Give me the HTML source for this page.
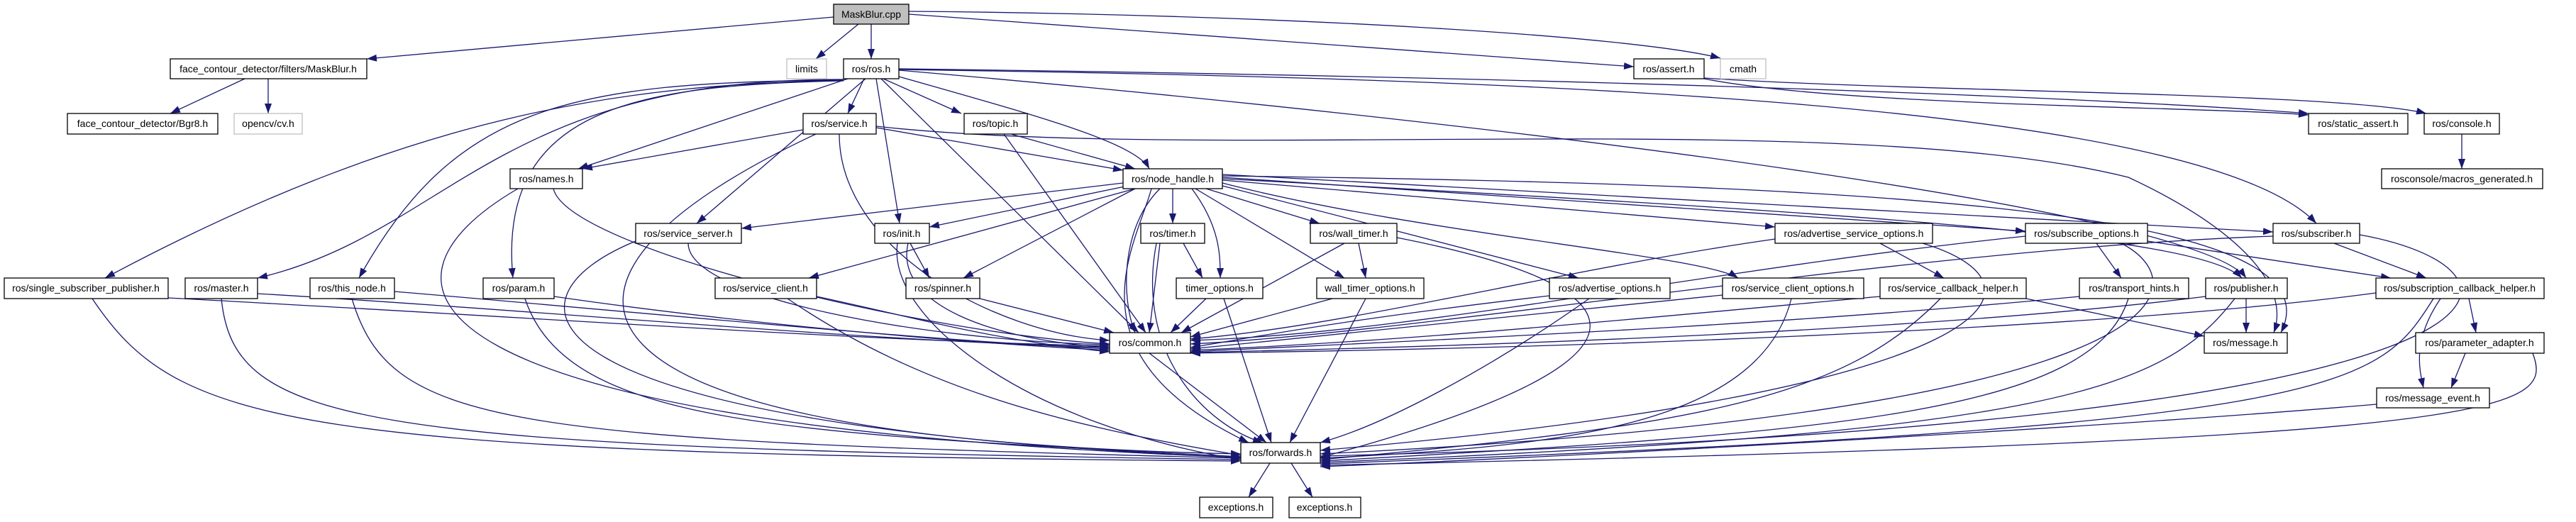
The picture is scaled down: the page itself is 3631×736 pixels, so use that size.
<!DOCTYPE html>
<html><head><meta charset="utf-8"><style>
html,body{margin:0;padding:0;background:#fff;}
svg{display:block;}
text{font-family:"Liberation Sans",sans-serif;font-size:14px;text-anchor:middle;fill:#000;}
.n{fill:#fff;stroke:#000;stroke-width:1.3;}
.g{fill:#fff;stroke:#bfbfbf;stroke-width:1.3;}
.e path{fill:none;stroke:#191970;stroke-width:1.3;}
</style></head><body>
<svg width="3631" height="736" viewBox="0 0 3631 736" xmlns="http://www.w3.org/2000/svg">
<defs><marker id="a" markerUnits="userSpaceOnUse" markerWidth="14" markerHeight="10" refX="14" refY="5" orient="auto"><path d="M0,0 L14,5 L0,10 z" fill="#191970"/></marker></defs>
<g class="e" marker-end="url(#a)">
<path d="M1175 24 L517 83" marker-end="url(#a)"/>
<path d="M1210 34 L1150 83" marker-end="url(#a)"/>
<path d="M1228 34 L1228 83" marker-end="url(#a)"/>
<path d="M1281 20 C1700 50 2100 80 2303 94" marker-end="url(#a)"/>
<path d="M1281 16 C1800 20 2300 50 2425 82" marker-end="url(#a)"/>
<path d="M345 111 L240 160" marker-end="url(#a)"/>
<path d="M378 111 L378 160" marker-end="url(#a)"/>
<path d="M1195 111 L815 238" marker-end="url(#a)"/>
<path d="M1218 111 L1195 160" marker-end="url(#a)"/>
<path d="M1245 111 L1355 160" marker-end="url(#a)"/>
<path d="M1267 108 C1450 160 1600 200 1620 238" marker-end="url(#a)"/>
<path d="M1235 111 L1268 315" marker-end="url(#a)"/>
<path d="M1220 111 L982 315" marker-end="url(#a)"/>
<path d="M1242 111 L1605 469" marker-end="url(#a)"/>
<path d="M1189 113 C900 120 600 150 148 392" marker-end="url(#a)"/>
<path d="M1189 112 C700 110 630 330 363 392" marker-end="url(#a)"/>
<path d="M1189 113 C800 115 640 150 506 392" marker-end="url(#a)"/>
<path d="M1189 114 C900 120 700 150 723 392" marker-end="url(#a)"/>
<path d="M1267 99 C2200 180 3100 300 3166 392" marker-end="url(#a)"/>
<path d="M1267 98 C2100 110 3100 140 3265 315" marker-end="url(#a)"/>
<path d="M1267 97 C2300 110 3000 140 3254 160" marker-end="url(#a)"/>
<path d="M2402 111 C2600 150 3100 150 3254 162" marker-end="url(#a)"/>
<path d="M2402 110 C2700 130 3300 130 3420 160" marker-end="url(#a)"/>
<path d="M3470 189 L3470 238" marker-end="url(#a)"/>
<path d="M1132 183 L821 238" marker-end="url(#a)"/>
<path d="M1235 180 L1583 240" marker-end="url(#a)"/>
<path d="M1183 189 C1183 350 1400 470 1564 480" marker-end="url(#a)"/>
<path d="M1150 189 C700 400 750 620 1749 640" marker-end="url(#a)"/>
<path d="M1235 178 C1700 230 2600 150 3000 250 C3150 320 3230 400 3205 469" marker-end="url(#a)"/>
<path d="M1425 189 L1600 238" marker-end="url(#a)"/>
<path d="M1415 189 L1615 469" marker-end="url(#a)"/>
<path d="M780 266 C800 350 1300 470 1564 485" marker-end="url(#a)"/>
<path d="M730 266 C500 400 550 600 1749 645" marker-end="url(#a)"/>
<path d="M1583 258 L1045 322" marker-end="url(#a)"/>
<path d="M1590 262 L1310 320" marker-end="url(#a)"/>
<path d="M1600 266 L1358 392" marker-end="url(#a)"/>
<path d="M1653 266 L1653 315" marker-end="url(#a)"/>
<path d="M1680 266 C1720 320 1720 360 1720 392" marker-end="url(#a)"/>
<path d="M1700 266 L1860 315" marker-end="url(#a)"/>
<path d="M1685 266 L1895 392" marker-end="url(#a)"/>
<path d="M1635 266 C1580 320 1580 420 1600 469" marker-end="url(#a)"/>
<path d="M1623 266 C1600 350 1500 500 1760 624" marker-end="url(#a)"/>
<path d="M1600 266 L1140 392" marker-end="url(#a)"/>
<path d="M1723 262 L2225 392" marker-end="url(#a)"/>
<path d="M1723 254 L2502 320" marker-end="url(#a)"/>
<path d="M1723 258 C2000 330 2400 360 2450 392" marker-end="url(#a)"/>
<path d="M1723 250 L2855 326" marker-end="url(#a)"/>
<path d="M1723 246 L3204 327" marker-end="url(#a)"/>
<path d="M1723 252 C2600 300 3100 330 3160 392" marker-end="url(#a)"/>
<path d="M1723 248 C2700 260 3300 300 3215 469" marker-end="url(#a)"/>
<path d="M970 343 C970 420 1300 480 1564 486" marker-end="url(#a)"/>
<path d="M896 340 C700 420 700 600 1749 645" marker-end="url(#a)"/>
<path d="M1283 343 L1310 392" marker-end="url(#a)"/>
<path d="M1280 343 C1260 430 1400 480 1564 490" marker-end="url(#a)"/>
<path d="M1265 343 C1250 450 1450 600 1749 648" marker-end="url(#a)"/>
<path d="M1668 343 L1695 392" marker-end="url(#a)"/>
<path d="M1635 343 L1620 469" marker-end="url(#a)"/>
<path d="M1630 343 C1600 500 1700 600 1780 624" marker-end="url(#a)"/>
<path d="M1915 343 L1925 392" marker-end="url(#a)"/>
<path d="M1895 343 L1665 469" marker-end="url(#a)"/>
<path d="M1969 335 C2300 400 2400 500 1861 645" marker-end="url(#a)"/>
<path d="M1700 421 L1650 469" marker-end="url(#a)"/>
<path d="M1725 421 L1792 624" marker-end="url(#a)"/>
<path d="M1878 421 L1678 475" marker-end="url(#a)"/>
<path d="M1925 421 L1818 624" marker-end="url(#a)"/>
<path d="M2650 343 L2740 392" marker-end="url(#a)"/>
<path d="M2502 337 C2200 380 1900 460 1678 478" marker-end="url(#a)"/>
<path d="M2710 343 C2900 400 2850 550 1861 635" marker-end="url(#a)"/>
<path d="M2955 343 L2990 392" marker-end="url(#a)"/>
<path d="M2855 333 C2400 380 2000 470 1678 480" marker-end="url(#a)"/>
<path d="M2990 343 C3100 400 3100 580 1861 640" marker-end="url(#a)"/>
<path d="M3027 340 L3370 392" marker-end="url(#a)"/>
<path d="M3290 343 L3420 392" marker-end="url(#a)"/>
<path d="M3204 333 C2700 350 2000 470 1678 485" marker-end="url(#a)"/>
<path d="M3326 331 C3600 380 3650 600 1861 643" marker-end="url(#a)"/>
<path d="M237 420 C800 450 1200 480 1564 488" marker-end="url(#a)"/>
<path d="M130 421 C250 600 400 640 1749 650" marker-end="url(#a)"/>
<path d="M363 414 C800 440 1200 480 1564 490" marker-end="url(#a)"/>
<path d="M312 421 C330 600 500 630 1749 648" marker-end="url(#a)"/>
<path d="M556 411 C900 440 1300 480 1564 492" marker-end="url(#a)"/>
<path d="M496 421 C550 600 700 620 1749 646" marker-end="url(#a)"/>
<path d="M781 418 C1000 450 1300 480 1564 494" marker-end="url(#a)"/>
<path d="M740 421 C800 600 1100 610 1749 644" marker-end="url(#a)"/>
<path d="M1151 418 C1300 450 1400 480 1564 496" marker-end="url(#a)"/>
<path d="M1110 421 C1300 550 1500 600 1749 642" marker-end="url(#a)"/>
<path d="M1381 421 L1570 469" marker-end="url(#a)"/>
<path d="M2184 417 C1900 450 1800 470 1678 490" marker-end="url(#a)"/>
<path d="M2240 421 C2100 520 1950 600 1861 624" marker-end="url(#a)"/>
<path d="M2428 416 C2100 450 1900 470 1678 492" marker-end="url(#a)"/>
<path d="M2525 421 C2480 600 2200 630 1861 646" marker-end="url(#a)"/>
<path d="M2650 418 C2300 450 2000 480 1678 494" marker-end="url(#a)"/>
<path d="M2735 421 C2600 560 2400 600 1861 648" marker-end="url(#a)"/>
<path d="M2856 421 L3107 474" marker-end="url(#a)"/>
<path d="M2931 418 C2500 460 2000 480 1678 496" marker-end="url(#a)"/>
<path d="M3000 421 C2950 580 2600 610 1861 650" marker-end="url(#a)"/>
<path d="M3166 421 L3166 469" marker-end="url(#a)"/>
<path d="M3109 418 C2700 470 2000 490 1678 497" marker-end="url(#a)"/>
<path d="M3150 421 C3050 550 2900 610 1861 652" marker-end="url(#a)"/>
<path d="M3480 421 L3490 469" marker-end="url(#a)"/>
<path d="M3440 421 C3400 480 3410 520 3416 547" marker-end="url(#a)"/>
<path d="M3349 413 C3000 460 2300 490 1678 498" marker-end="url(#a)"/>
<path d="M3430 421 C3350 550 3300 600 1861 654" marker-end="url(#a)"/>
<path d="M3475 498 L3455 547" marker-end="url(#a)"/>
<path d="M3570 498 C3600 580 3550 620 1861 656" marker-end="url(#a)"/>
<path d="M3350 570 C3000 600 2300 640 1861 658" marker-end="url(#a)"/>
<path d="M1620 498 L1785 624" marker-end="url(#a)"/>
<path d="M1790 653 L1760 701" marker-end="url(#a)"/>
<path d="M1820 653 L1850 701" marker-end="url(#a)"/>
</g>
<g>
<rect x="1175" y="6" width="106" height="28" fill="#bfbfbf" stroke="#000" stroke-width="1.3"/><text x="1228" y="25">MaskBlur.cpp</text>
<rect class="n" x="240" y="83" width="277" height="28"/><text x="378" y="102">face_contour_detector/filters/MaskBlur.h</text>
<rect class="g" x="1109" y="83" width="56" height="28"/><text x="1137" y="102">limits</text>
<rect class="n" x="1189" y="83" width="78" height="28"/><text x="1228" y="102">ros/ros.h</text>
<rect class="n" x="2303" y="83" width="99" height="28"/><text x="2352" y="102">ros/assert.h</text>
<rect class="g" x="2425" y="83" width="64" height="28"/><text x="2457" y="102">cmath</text>
<rect class="n" x="95" y="160" width="212" height="29"/><text x="201" y="179">face_contour_detector/Bgr8.h</text>
<rect class="g" x="330" y="160" width="96" height="29"/><text x="378" y="179">opencv/cv.h</text>
<rect class="n" x="1132" y="160" width="103" height="29"/><text x="1183" y="179">ros/service.h</text>
<rect class="n" x="1359" y="160" width="89" height="29"/><text x="1403" y="179">ros/topic.h</text>
<rect class="n" x="3254" y="160" width="140" height="29"/><text x="3324" y="179">ros/static_assert.h</text>
<rect class="n" x="3417" y="160" width="106" height="29"/><text x="3470" y="179">ros/console.h</text>
<rect class="n" x="719" y="238" width="102" height="28"/><text x="770" y="257">ros/names.h</text>
<rect class="n" x="1583" y="238" width="140" height="28"/><text x="1653" y="257">ros/node_handle.h</text>
<rect class="n" x="3357" y="238" width="227" height="28"/><text x="3470" y="257">rosconsole/macros_generated.h</text>
<rect class="n" x="896" y="315" width="149" height="28"/><text x="970" y="334">ros/service_server.h</text>
<rect class="n" x="1233" y="315" width="77" height="28"/><text x="1271" y="334">ros/init.h</text>
<rect class="n" x="1608" y="315" width="90" height="28"/><text x="1653" y="334">ros/timer.h</text>
<rect class="n" x="1847" y="315" width="122" height="28"/><text x="1908" y="334">ros/wall_timer.h</text>
<rect class="n" x="2502" y="315" width="222" height="28"/><text x="2613" y="334">ros/advertise_service_options.h</text>
<rect class="n" x="2855" y="315" width="172" height="28"/><text x="2941" y="334">ros/subscribe_options.h</text>
<rect class="n" x="3204" y="315" width="122" height="28"/><text x="3265" y="334">ros/subscriber.h</text>
<rect class="n" x="6" y="392" width="231" height="29"/><text x="121" y="411">ros/single_subscriber_publisher.h</text>
<rect class="n" x="261" y="392" width="102" height="29"/><text x="312" y="411">ros/master.h</text>
<rect class="n" x="437" y="392" width="119" height="29"/><text x="496" y="411">ros/this_node.h</text>
<rect class="n" x="681" y="392" width="100" height="29"/><text x="731" y="411">ros/param.h</text>
<rect class="n" x="1008" y="392" width="143" height="29"/><text x="1079" y="411">ros/service_client.h</text>
<rect class="n" x="1277" y="392" width="104" height="29"/><text x="1329" y="411">ros/spinner.h</text>
<rect class="n" x="1658" y="392" width="122" height="29"/><text x="1719" y="411">timer_options.h</text>
<rect class="n" x="1856" y="392" width="151" height="29"/><text x="1931" y="411">wall_timer_options.h</text>
<rect class="n" x="2184" y="392" width="170" height="29"/><text x="2269" y="411">ros/advertise_options.h</text>
<rect class="n" x="2428" y="392" width="199" height="29"/><text x="2527" y="411">ros/service_client_options.h</text>
<rect class="n" x="2650" y="392" width="206" height="29"/><text x="2753" y="411">ros/service_callback_helper.h</text>
<rect class="n" x="2931" y="392" width="154" height="29"/><text x="3008" y="411">ros/transport_hints.h</text>
<rect class="n" x="3109" y="392" width="115" height="29"/><text x="3166" y="411">ros/publisher.h</text>
<rect class="n" x="3349" y="392" width="237" height="29"/><text x="3467" y="411">ros/subscription_callback_helper.h</text>
<rect class="n" x="1564" y="469" width="114" height="29"/><text x="1621" y="488">ros/common.h</text>
<rect class="n" x="3107" y="469" width="117" height="29"/><text x="3165" y="488">ros/message.h</text>
<rect class="n" x="3405" y="469" width="181" height="29"/><text x="3495" y="488">ros/parameter_adapter.h</text>
<rect class="n" x="3350" y="547" width="159" height="28"/><text x="3429" y="566">ros/message_event.h</text>
<rect class="n" x="1749" y="624" width="112" height="29"/><text x="1805" y="643">ros/forwards.h</text>
<rect class="n" x="1691" y="701" width="103" height="29"/><text x="1742" y="720">exceptions.h</text>
<rect class="n" x="1817" y="701" width="101" height="29"/><text x="1867" y="720">exceptions.h</text>
</g>
</svg>
</body></html>
